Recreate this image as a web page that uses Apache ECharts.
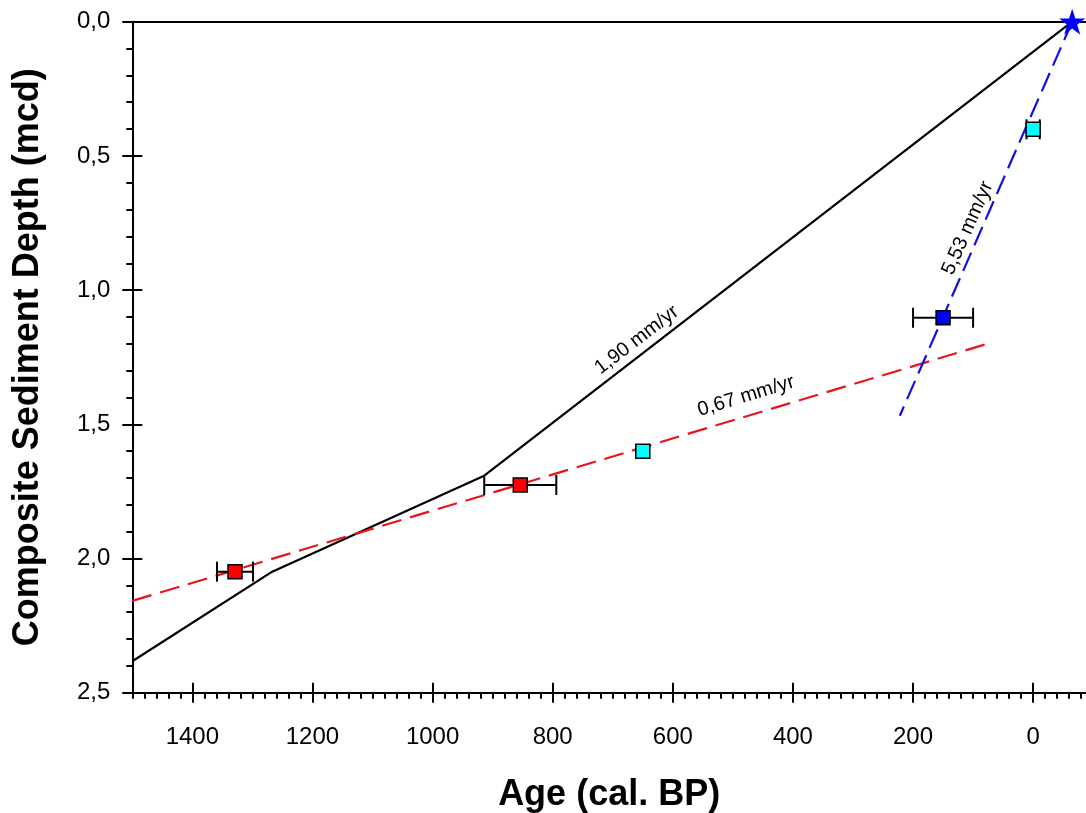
<!DOCTYPE html>
<html>
<head>
<meta charset="utf-8">
<script src="https://cdn.jsdelivr.net/npm/echarts@6/dist/echarts.min.js"></script>
<style>
  html, body { margin: 0; padding: 0; background: #fff; }
  #chart { width: 1086px; height: 813px; }
</style>
</head>
<body>
<div id="chart"></div>
<script>
// ---------- data ----------
const xTickValues = [0, 200, 400, 600, 800, 1000, 1200, 1400];
const yTickValues = [0, 0.5, 1.0, 1.5, 2.0, 2.5];

// age-depth model (black solid)
const modelAges   = [1500, 1267, 915, -65];
const modelDepths = [2.383, 2.049, 1.693, 0.0];

// linear fit through red dates (red dashed)
const redFitAges   = [1500, 79];
const redFitDepths = [2.158, 1.202];

// linear fit recent (blue dashed)
const blueFitAges   = [-65, 222];
const blueFitDepths = [0.0, 1.468];

// red squares with age error
const redAges   = [1329, 854];
const redDepths = [2.049, 1.726];
const redErr    = [30, 60];

// cyan squares
const cyanAges   = [650, 0];
const cyanDepths = [1.600, 0.401];
const cyanErr    = [0, 11];

// blue square
const blueAges   = [150];
const blueDepths = [1.103];
const blueErr    = [50];

// surface (star)
const starAges   = [-65];
const starDepths = [0.0];

// rate annotations
const rateTexts  = ['1,90 mm/yr', '0,67 mm/yr', '5,53 mm/yr'];
const rateAges   = [660, 478, 109];
const rateDepths = [1.186, 1.395, 0.769];
const rateAngles = [37.5, 17, 66];

// ---------- helpers ----------
const zip = (a, b) => a.map((v, i) => [v, b[i]]);
const zip3 = (a, b, c) => a.map((v, i) => [v, b[i], c[i]]);
const X_MIN = -88, X_MAX = 1500;
const minorX = []; for (let v = -80; v <= 1500; v += 20) minorX.push(v);
const minorY = []; for (let i = 0; i <= 25; i++) minorY.push(i / 10);
const FONT = 'Liberation Sans, Arial, sans-serif';

const baseX = {
  type: 'value', min: X_MIN, max: X_MAX, inverse: true,
  splitLine: { show: false }, axisLabel: { show: false },
  axisLine: { show: false, onZero: false }, axisTick: { show: false }
};
const baseY = {
  type: 'value', min: 0, max: 2.5, inverse: true,
  splitLine: { show: false }, axisLabel: { show: false },
  axisLine: { show: false, onZero: false }, axisTick: { show: false }
};

const chart = echarts.init(document.getElementById('chart'), null, { renderer: 'canvas' });

function errorBar(params, api) {
  const x = api.value(0), y = api.value(1), e = api.value(2);
  if (!e) return null;
  const p1 = api.coord([x - e, y]);
  const p2 = api.coord([x + e, y]);
  const c = 10;
  const st = { stroke: '#000', lineWidth: 2 };
  return {
    type: 'group',
    children: [
      { type: 'line', shape: { x1: p1[0], y1: p1[1], x2: p2[0], y2: p2[1] }, style: st },
      { type: 'line', shape: { x1: p1[0], y1: p1[1] - c, x2: p1[0], y2: p1[1] + c }, style: st },
      { type: 'line', shape: { x1: p2[0], y1: p2[1] - c, x2: p2[0], y2: p2[1] + c }, style: st }
    ]
  };
}

const starPath = 'path://M50,0 L61.8,35.1 L98.9,35.1 L68.9,57 L80.3,92.1 L50,70.4 L19.7,92.1 L31.1,57 L1.1,35.1 L38.2,35.1 Z';
const tickStyle = { color: '#000', width: 2 };

const option = {
  animation: false,
  backgroundColor: '#ffffff',
  grid: { left: 132.3, right: 0, top: 21.7, bottom: 120.3, containLabel: false, outerBoundsMode: 'none' },
  xAxis: [
    Object.assign({}, baseX, {
      position: 'bottom',
      name: 'Age (cal. BP)', nameLocation: 'middle', nameGap: 84,
      nameTextStyle: { fontFamily: FONT, fontSize: 36, fontWeight: 'bold', color: '#000' },
      axisLine: { show: true, onZero: false, lineStyle: tickStyle },
      axisTick: { show: true, inside: false, length: 10, customValues: xTickValues, lineStyle: tickStyle },
      axisLabel: { show: true, customValues: xTickValues, margin: 33, fontFamily: FONT, fontSize: 24, color: '#000',
        formatter: v => String(v) }
    }),
    Object.assign({}, baseX, {
      position: 'bottom',
      axisTick: { show: true, inside: true, length: 10, customValues: xTickValues, lineStyle: tickStyle }
    }),
    Object.assign({}, baseX, {
      position: 'bottom',
      axisTick: { show: true, inside: false, length: 6, customValues: minorX, lineStyle: tickStyle }
    }),
    Object.assign({}, baseX, {
      position: 'top',
      axisLine: { show: true, onZero: false, lineStyle: tickStyle }
    })
  ],
  yAxis: [
    Object.assign({}, baseY, {
      position: 'left',
      name: 'Composite Sediment Depth (mcd)', nameLocation: 'middle', nameGap: 86, nameRotate: 90,
      nameTextStyle: { fontFamily: FONT, fontSize: 36, fontWeight: 'bold', color: '#000' },
      axisLine: { show: true, onZero: false, lineStyle: tickStyle },
      axisTick: { show: true, inside: false, length: 10, customValues: yTickValues, lineStyle: tickStyle },
      axisLabel: { show: true, customValues: yTickValues, margin: 22, fontFamily: FONT, fontSize: 24, color: '#000',
        formatter: v => Number(v).toFixed(1).replace('.', ',') }
    }),
    Object.assign({}, baseY, {
      position: 'left',
      axisTick: { show: true, inside: true, length: 10, customValues: yTickValues.slice(1), lineStyle: tickStyle }
    }),
    Object.assign({}, baseY, {
      position: 'left',
      axisTick: { show: true, inside: false, length: 6, customValues: minorY, lineStyle: tickStyle }
    })
  ],
  series: [
    {
      name: 'model', type: 'line', xAxisIndex: 0, yAxisIndex: 0,
      data: zip(modelAges, modelDepths), showSymbol: false, symbol: 'none',
      lineStyle: { color: '#000', width: 2.2 }, z: 2
    },
    {
      name: 'redFit', type: 'line', xAxisIndex: 0, yAxisIndex: 0,
      data: zip(redFitAges, redFitDepths), symbol: 'none',
      lineStyle: { color: '#e8141b', width: 2.2, type: [20, 9] }, z: 2
    },
    {
      name: 'blueFit', type: 'line', xAxisIndex: 0, yAxisIndex: 0,
      data: zip(blueFitAges, blueFitDepths), symbol: 'none',
      lineStyle: { color: '#1010e0', width: 2.2, type: [20, 8] }, z: 2
    },
    {
      name: 'errors', type: 'custom', xAxisIndex: 0, yAxisIndex: 0,
      renderItem: errorBar,
      data: zip3(redAges, redDepths, redErr)
        .concat(zip3(cyanAges, cyanDepths, cyanErr))
        .concat(zip3(blueAges, blueDepths, blueErr)),
      z: 3
    },
    {
      name: 'red', type: 'scatter', xAxisIndex: 0, yAxisIndex: 0,
      data: zip(redAges, redDepths), symbol: 'rect', symbolSize: 14,
      itemStyle: { color: '#ff0000', borderColor: '#000', borderWidth: 1.5, opacity: 1 }, z: 4
    },
    {
      name: 'cyan', type: 'scatter', xAxisIndex: 0, yAxisIndex: 0,
      data: zip(cyanAges, cyanDepths), symbol: 'rect', symbolSize: 14,
      itemStyle: { color: '#00ffff', borderColor: '#000', borderWidth: 1.5, opacity: 1 }, z: 4
    },
    {
      name: 'blue', type: 'scatter', xAxisIndex: 0, yAxisIndex: 0,
      data: zip(blueAges, blueDepths), symbol: 'rect', symbolSize: 14,
      itemStyle: { color: '#0000ff', borderColor: '#000', borderWidth: 1.5, opacity: 1 }, z: 4
    },
    {
      name: 'star', type: 'scatter', xAxisIndex: 0, yAxisIndex: 0,
      data: zip(starAges, starDepths), symbol: starPath, symbolSize: 26,
      itemStyle: { color: '#0000ff', opacity: 1 }, z: 5
    },
    {
      name: 'rates', type: 'scatter', xAxisIndex: 0, yAxisIndex: 0,
      data: rateTexts.map((t, i) => ({
        value: [rateAges[i], rateDepths[i]],
        label: { formatter: t, rotate: rateAngles[i] }
      })),
      symbol: 'circle', symbolSize: 2, itemStyle: { color: 'rgba(0,0,0,0)' },
      label: { show: true, position: 'inside', align: 'center', verticalAlign: 'middle',
        fontFamily: FONT, fontSize: 20, color: '#000', opacity: 1 },
      z: 6
    }
  ]
};

chart.setOption(option);
</script>
</body>
</html>
